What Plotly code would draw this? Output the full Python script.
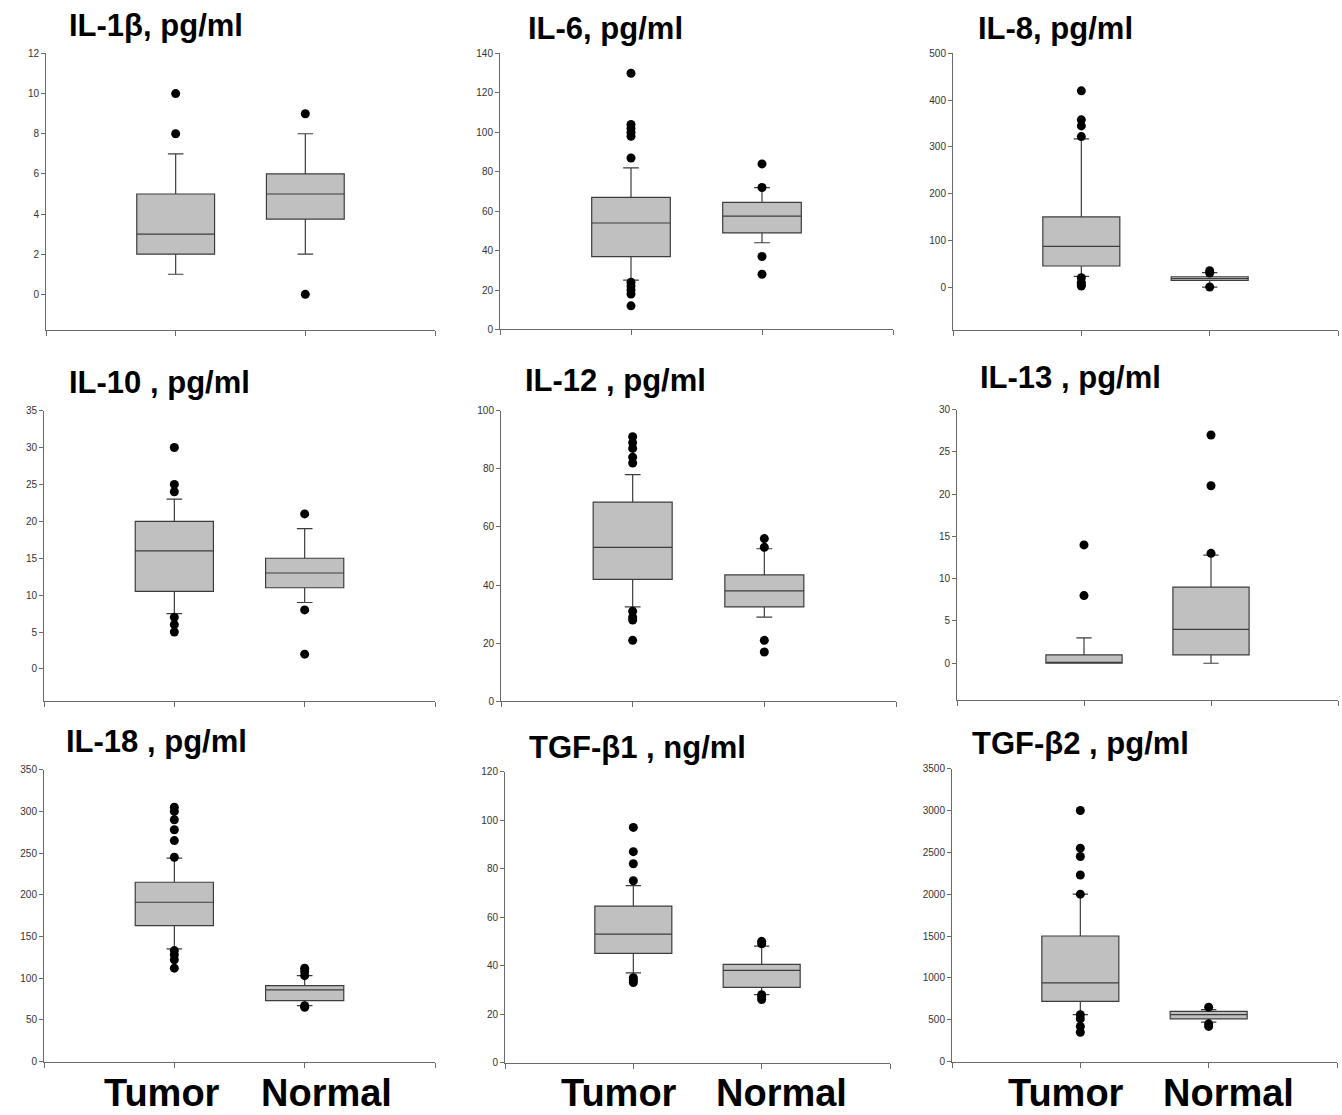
import plotly.graph_objects as go

W, H = 1342, 1115

titles = ["IL-1β, pg/ml", "IL-6, pg/ml", "IL-8, pg/ml",
          "IL-10 , pg/ml", "IL-12 , pg/ml", "IL-13 , pg/ml",
          "IL-18 , pg/ml", "TGF-β1 , ng/ml", "TGF-β2 , pg/ml"]
groups = ["Tumor", "Normal"]

# box stats per panel: [Tumor, Normal]
q1 = [[2, 3.75], [37, 49], [45, 14], [10.5, 11], [42, 32.5], [0, 1], [163, 73], [45, 31], [720, 510]]
med = [[3, 5], [54, 57.5], [87, 18], [16, 13], [53, 38], [0, 4], [191, 86], [53, 38], [940, 560]]
q3 = [[5, 6], [67, 64.5], [150, 22], [20, 15], [68.5, 43.5], [1, 9], [215, 91], [64.5, 40.5], [1500, 600]]
lowf = [[1, 2], [25, 44], [23, 0], [7.5, 9], [32.5, 29], [0, 0], [135, 67], [37, 28], [560, 470]]
upf = [[7, 8], [82, 72], [317, 31], [23, 19], [78, 52.5], [3, 12.8], [244, 103], [73, 48], [2000, 620]]

# outliers per panel: [Tumor list, Normal list]
outliers = [
    [[8, 10], [9, 0]],
    [[130, 104, 102, 100, 98, 87, 24, 22, 20, 18, 12], [84, 72, 37, 28]],
    [[420, 358, 345, 322, 20, 10, 5, 2], [35, 30, 0]],
    [[30, 25, 24, 7, 6, 5], [21, 8, 2]],
    [[91, 89, 87, 84, 82, 31, 29, 28, 21], [56, 53, 21, 17]],
    [[14, 8], [27, 21, 13]],
    [[305, 300, 290, 278, 265, 245, 133, 128, 122, 112], [112, 108, 103, 67, 65]],
    [[97, 87, 82, 75, 35, 34, 33], [50, 49, 28, 27, 26]],
    [[3000, 2550, 2450, 2230, 2000, 560, 510, 420, 350], [650, 450, 420]],
]

y_ranges = [[-1.8, 12], [0, 140], [-93, 500], [-4.4, 35], [0, 100], [-4.4, 30], [0, 350], [0, 120], [0, 3500]]
y_max_tick = [12, 140, 500, 35, 100, 30, 350, 120, 3500]
y_step = [2, 20, 100, 5, 20, 5, 50, 20, 500]

# layout geometry (pixels)
plot_left = [46, 500, 953, 44, 501, 957, 44, 505, 952]
plot_right = [435, 893, 1338, 435, 896, 1338, 435, 890, 1337]
plot_top = [48, 48, 48, 409, 409, 408, 772, 774, 771]
plot_bot = [328, 327, 328, 703, 703, 702, 1067, 1068, 1067]
title_x = [67, 526, 976, 67, 523, 978, 64, 527, 970]
title_y = [19.5, 22.5, 22.5, 381, 379, 376, 744, 749.5, 746]

box_fill = "#c0c0c0"
line_col = "#3c3c3c"
axis_col = "#6a6a6a"
font_fam = "Liberation Sans, Arial, sans-serif"

fig = go.Figure()
layout = dict(width=W, height=H, margin=dict(l=0, r=0, t=0, b=0),
              plot_bgcolor="white", paper_bgcolor="white", showlegend=False,
              font=dict(family=font_fam))
annotations = []

for i in range(9):
    n = "" if i == 0 else str(i + 1)
    xa, ya = "x" + n, "y" + n
    fig.add_trace(go.Box(
        x=[1, 2], q1=q1[i], median=med[i], q3=q3[i],
        lowerfence=lowf[i], upperfence=upf[i],
        width=0.6, whiskerwidth=0.2, boxpoints=False,
        fillcolor=box_fill, line=dict(color=line_col, width=1.2),
        xaxis=xa, yaxis=ya, hoverinfo="skip"))
    for g in range(2):
        pts = outliers[i][g]
        fig.add_trace(go.Scatter(
            x=[g + 1] * len(pts), y=pts, mode="markers",
            marker=dict(color="black", size=9),
            xaxis=xa, yaxis=ya, hoverinfo="skip"))
    ticks = list(range(0, y_max_tick[i] + 1, y_step[i]))
    layout["xaxis" + n] = dict(
        domain=[plot_left[i] / W, plot_right[i] / W], range=[0, 3],
        anchor=ya, showline=True, linecolor=axis_col, linewidth=1,
        tickvals=[0, 1, 2, 3], ticktext=["", "", "", ""], ticks="outside",
        ticklen=5, tickcolor=axis_col, showgrid=False, zeroline=False, fixedrange=True)
    layout["yaxis" + n] = dict(
        domain=[1 - plot_bot[i] / H, 1 - plot_top[i] / H], range=y_ranges[i],
        anchor=xa, showline=True, linecolor=axis_col, linewidth=1,
        tickvals=ticks, ticks="outside", ticklen=4, tickcolor=axis_col,
        tickfont=dict(size=10, color="#333333"), showgrid=False, zeroline=False,
        fixedrange=True)
    annotations.append(dict(
        text="<b>" + titles[i] + "</b>", xref="paper", yref="paper",
        x=title_x[i] / W, y=1 - title_y[i] / H, xanchor="left", yanchor="middle",
        showarrow=False, font=dict(size=31, color="black", family=font_fam)))

# group labels under the bottom row
label_shift = [-12, 22]
for i in [6, 7, 8]:
    n = str(i + 1)
    for g in range(2):
        annotations.append(dict(
            text="<b>" + groups[g] + "</b>", xref="x" + n, yref="paper",
            x=g + 1, xshift=label_shift[g] - 2 if i > 6 else label_shift[g],
            y=1 - 1099 / H, xanchor="center", yanchor="middle", showarrow=False,
            font=dict(size=38, color="black", family=font_fam)))

layout["annotations"] = annotations
fig.update_layout(**layout)
fig.write_html("out.html")
